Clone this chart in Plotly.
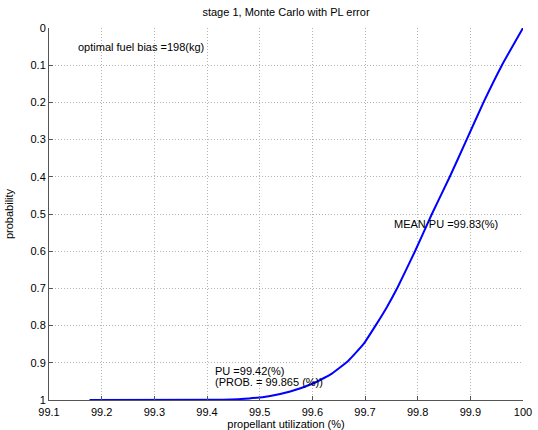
import plotly.graph_objects as go

# Data
pu = [99.177, 99.43, 99.48, 99.52, 99.558, 99.599, 99.634, 99.668, 99.697, 99.720,
      99.742, 99.762, 99.795, 99.827, 99.861, 99.893, 99.925, 99.960, 100.0]
prob = [1.0, 0.999, 0.996, 0.989, 0.977, 0.957, 0.932, 0.895, 0.850, 0.800,
        0.749, 0.697, 0.600, 0.500, 0.400, 0.300, 0.200, 0.100, 0.0]

x_ticks = [99.1, 99.2, 99.3, 99.4, 99.5, 99.6, 99.7, 99.8, 99.9, 100]
x_tick_labels = ["99.1", "99.2", "99.3", "99.4", "99.5", "99.6", "99.7", "99.8", "99.9", "100"]
y_ticks = [0, 0.1, 0.2, 0.3, 0.4, 0.5, 0.6, 0.7, 0.8, 0.9, 1]
y_tick_labels = ["0", "0.1", "0.2", "0.3", "0.4", "0.5", "0.6", "0.7", "0.8", "0.9", "1"]

title_text = "stage 1, Monte Carlo with PL error"
x_title = "propellant utilization (%)"
y_title = "probability"
notes = [
    (99.151, 0.05, "optimal fuel bias =198(kg)"),
    (99.751, 0.526, "MEAN PU =99.83(%)"),
    (99.411, 0.921, "PU =99.42(%)"),
    (99.411, 0.951, "(PROB. = 99.865 (%))"),
]

FONT = "Liberation Sans, Arial, sans-serif"

fig = go.Figure()
fig.add_trace(go.Scatter(x=pu, y=prob, mode="lines",
                         line=dict(color="rgb(0,0,255)", width=2, shape="spline", smoothing=0.4),
                         showlegend=False, hoverinfo="skip"))

axis_common = dict(
    showgrid=True, gridcolor="#b4b4b4", griddash="1px,2px", gridwidth=1,
    showline=True, linecolor="#555555", linewidth=1,
    ticks="inside", ticklen=4, tickcolor="#555555",
    tickfont=dict(family=FONT, size=11, color="black"),
    zeroline=False, mirror=False, automargin=False,
)

fig.update_xaxes(range=[99.1, 100], tickvals=x_ticks, ticktext=x_tick_labels,
                 ticklabelstandoff=2,
                 title=dict(text=x_title, font=dict(family=FONT, size=11, color="black"), standoff=2),
                 **axis_common)
fig.update_yaxes(range=[1, 0], tickvals=y_ticks, ticktext=y_tick_labels,
                 ticklabelstandoff=0,
                 title=dict(text=y_title, font=dict(family=FONT, size=11, color="black"), standoff=14),
                 **axis_common)

for x, y, t in notes:
    fig.add_annotation(x=x, y=y, text=t, showarrow=False, xanchor="left", yanchor="middle",
                       font=dict(family=FONT, size=11, color="black"))

fig.update_layout(
    width=538, height=430,
    margin=dict(l=49, r=15, t=28, b=30),
    paper_bgcolor="white", plot_bgcolor="white",
    title=dict(text=title_text, x=0.5316, xanchor="center", y=0.972, yanchor="middle",
               font=dict(family=FONT, size=11, color="black")),
)

fig.write_html("out.html")
